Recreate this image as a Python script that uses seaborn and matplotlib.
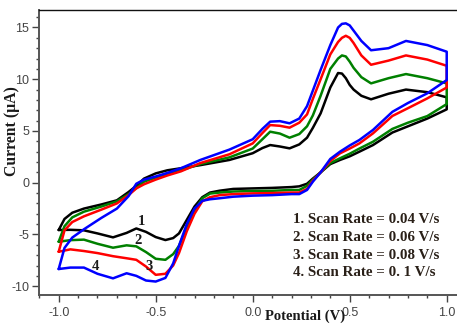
import matplotlib
matplotlib.use("Agg")
import matplotlib.pyplot as plt
import seaborn as sns
from matplotlib.ticker import MultipleLocator

# forward scan potentials (V) and reverse scan potentials (V)
fwd_x = [-1.0, -0.97, -0.93, -0.87, -0.78, -0.70, -0.64, -0.60, -0.56, -0.50, -0.44,
         -0.37, -0.27, -0.12, 0.0, 0.05, 0.09, 0.14, 0.19, 0.24, 0.28, 0.31, 0.35,
         0.40, 0.44, 0.46, 0.48, 0.50, 0.52, 0.56, 0.61, 0.70, 0.79, 0.90, 1.0]
rev_x = [1.0, 0.90, 0.80, 0.72, 0.62, 0.55, 0.50, 0.45, 0.40, 0.35, 0.31, 0.28, 0.24,
         0.20, 0.10, 0.0, -0.10, -0.17, -0.22, -0.26, -0.30, -0.34, -0.38, -0.41,
         -0.45, -0.50, -0.55, -0.60, -0.65, -0.72, -0.80, -0.87, -0.94, -1.0]

# currents (uA)
black_fwd = [-4.57, -3.5, -2.9, -2.5, -2.1, -1.7, -0.9, -0.3, 0.4, 0.9, 1.2, 1.4, 1.7,
             2.2, 2.85, 3.35, 3.64, 3.5, 3.32, 3.7, 4.35, 5.3, 6.7, 9.2, 10.6, 10.55,
             10.1, 9.45, 9.0, 8.4, 8.06, 8.6, 9.0, 8.75, 8.25]
black_rev = [7.09, 6.2, 5.45, 4.85, 3.64, 3.0, 2.55, 2.2, 1.8, 1.0, 0.4, -0.1, -0.35,
             -0.42, -0.5, -0.55, -0.6, -0.77, -0.95, -1.4, -2.3, -3.6, -4.9, -5.35,
             -5.54, -5.25, -4.75, -4.42, -4.85, -5.28, -4.9, -4.6, -4.55, -4.57]

green_fwd = [-5.7, -4.2, -3.35, -2.8, -2.3, -1.8, -1.1, -0.5, 0.1, 0.5, 0.85, 1.2, 1.8,
             2.45, 3.3, 4.2, 4.93, 4.75, 4.35, 4.7, 5.45, 6.5, 8.4, 11.0, 12.0, 12.3,
             12.2, 11.7, 11.1, 10.2, 9.6, 10.1, 10.5, 10.1, 9.6]
green_rev = [7.6, 6.44, 5.8, 5.2, 3.96, 3.3, 2.8, 2.36, 1.9, 1.0, 0.3, -0.3, -0.7,
             -0.7, -0.78, -0.8, -0.85, -0.95, -1.05, -1.5, -2.7, -4.3, -6.1, -6.9,
             -7.45, -7.35, -6.7, -6.15, -6.05, -6.28, -5.9, -5.5, -5.55, -5.7]

red_fwd = [-6.67, -4.6, -3.8, -3.25, -2.6, -2.0, -1.2, -0.55, -0.15, 0.3, 0.7, 1.1, 1.9,
           2.75, 3.8, 4.8, 5.57, 5.5, 5.32, 5.8, 6.6, 8.1, 10.0, 12.4, 13.6, 14.0,
           14.2, 14.0, 13.5, 12.3, 11.4, 11.8, 12.3, 11.9, 11.3]
red_rev = [9.2, 8.15, 7.2, 6.45, 4.77, 3.8, 3.3, 2.84, 2.1, 1.0, 0.2, -0.6, -0.95,
           -0.95, -1.0, -1.03, -1.1, -1.2, -1.4, -1.8, -3.0, -4.7, -6.8, -8.0,
           -8.8, -8.9, -8.1, -7.45, -7.3, -7.1, -6.8, -6.6, -6.44, -6.67]

blue_fwd = [-8.34, -6.3, -5.3, -4.5, -3.4, -2.5, -1.3, -0.1, 0.3, 0.6, 0.95, 1.4, 2.2,
            3.2, 4.2, 5.2, 5.9, 5.95, 5.74, 6.2, 7.4, 8.9, 10.9, 13.3, 15.0, 15.35,
            15.4, 15.2, 14.7, 13.7, 12.8, 13.0, 13.7, 13.3, 12.66]
blue_rev = [9.92, 8.64, 7.7, 6.85, 5.1, 4.13, 3.6, 3.0, 2.3, 1.0, 0.1, -0.7, -1.1,
            -1.1, -1.2, -1.25, -1.35, -1.5, -1.6, -1.75, -2.5, -4.0, -6.1, -7.8,
            -9.2, -9.55, -9.45, -9.0, -8.75, -9.24, -8.8, -8.2, -8.2, -8.34]

curve_colors = ["black", "green", "red", "blue"]
curve_names = ["1", "2", "3", "4"]
name_x = [-0.572, -0.593, -0.533, -0.813]
name_y = [-3.7, -5.55, -8.05, -8.1]
legend_lines = ["1. Scan Rate = 0.04 V/s", "2. Scan Rate = 0.06 V/s",
                "3. Scan Rate = 0.08 V/s", "4. Scan Rate = 0. 1 V/s"]

xticks = [-1.0, -0.5, 0.0, 0.5, 1.0]
xtick_labels = ["-1.0", "-0.5", "0.0", "0.5", "1.0"]
yticks = [-10, -5, 0, 5, 10, 15]
ytick_labels = ["-10", "-5", "0", "5", "10", "15"]

sns.set_style("ticks")
plt.rcParams["font.family"] = ["Liberation Sans", "DejaVu Sans"]

fig = plt.figure(figsize=(4.57, 3.24), dpi=100)
ax = fig.add_axes([39 / 457, 1 - 295 / 324, 418 / 457, 285 / 324])

curves = [(black_fwd, black_rev), (green_fwd, green_rev),
          (red_fwd, red_rev), (blue_fwd, blue_rev)]
for (fw, rv), col in zip(curves, curve_colors):
    sns.lineplot(x=fwd_x + rev_x, y=fw + rv, sort=False, estimator=None,
                 color=col, lw=1.8, ax=ax)

serif = ["Liberation Serif", "DejaVu Serif"]
for nm, nx, ny in zip(curve_names, name_x, name_y):
    ax.text(nx, ny, nm, fontsize=10.5, fontweight="bold", family=serif,
            ha="center", va="center", color="#1a1a1a")

leg_y = [0.266, 0.202, 0.140, 0.078]
for txt, yy in zip(legend_lines, leg_y):
    ax.text(0.608, yy, txt, transform=ax.transAxes, fontsize=10.8, fontweight="bold",
            family=serif, ha="left", va="center", color="#2a2018")

ax.set_xlim(-1.1015, 1.053)
ax.set_ylim(-10.85, 16.69)
ax.set_xticks(xticks)
ax.set_xticklabels(xtick_labels)
ax.set_yticks(yticks)
ax.set_yticklabels(ytick_labels)
ax.xaxis.set_minor_locator(MultipleLocator(0.1))
ax.yaxis.set_minor_locator(MultipleLocator(1))
ax.tick_params(which="major", direction="out", length=5, width=1, color="#444444",
               labelsize=9, labelcolor="#444444", pad=2)
ax.tick_params(axis="x", which="major", pad=4)
ax.tick_params(which="minor", direction="out", length=2.5, width=1, color="#444444")

ax.spines["right"].set_visible(False)
ax.spines["top"].set_color("#111111")
ax.spines["top"].set_linewidth(1.0)
for s in ["left", "bottom"]:
    ax.spines[s].set_color("#555555")
    ax.spines[s].set_linewidth(1.4)

ax.set_xlabel("Potential (V)", fontsize=10.5, fontweight="bold", family=serif, color="#1a1a1a")
ax.set_ylabel("Current (\u03bcA)", fontsize=11.3, fontweight="bold", family=serif, color="#1a1a1a")
ax.xaxis.set_label_coords(0.636, -0.052)
ax.yaxis.set_label_coords(-0.045, 0.574)

fig.savefig("out.png", dpi=100)
